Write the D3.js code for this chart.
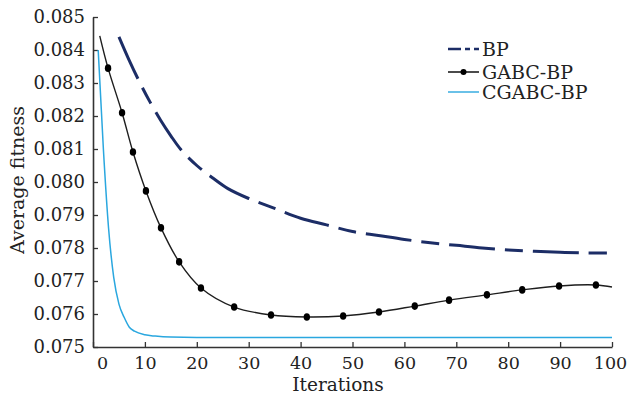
<!DOCTYPE html>
<html>
<head>
  <meta charset="utf-8">
  <title>Average fitness vs iterations</title>
  <script src="https://d3js.org/d3.v7.min.js"></script>
  <style>
    body { margin: 0; background: #fff; }
    svg text { font-family: "DejaVu Serif", serif; fill: #222; }
  </style>
</head>
<body>
  <svg width="632" height="396"></svg>

  <script>
    // values
    const bpIter = [5, 7, 9, 11, 13, 15, 17, 20, 23, 26, 30, 35, 40, 45, 50, 55, 60, 65, 70, 75, 80, 85, 90, 95, 100];
    const bpFit = [0.0844, 0.08368, 0.08302, 0.08242, 0.08188, 0.0814, 0.08097, 0.0805, 0.08013, 0.0798, 0.0795, 0.0792,
                   0.0789, 0.0787, 0.0785, 0.07838, 0.07826, 0.07816, 0.07808, 0.07800, 0.07794, 0.0779, 0.07787, 0.07785, 0.07785];

    const gabcIter = [1.3, 2.9, 5.6, 7.7, 10.2, 13.1, 16.6, 20.8, 27.2, 34.3, 41.2, 48.2, 55.1, 62.0, 68.6, 75.9, 82.7, 89.8, 96.9, 100];
    const gabcFit = [0.08443, 0.08345, 0.0821, 0.08091, 0.07973, 0.07861, 0.07758, 0.07679, 0.07621, 0.07597, 0.07591,
                     0.07594, 0.07606, 0.07624, 0.07642, 0.07658, 0.07673, 0.07685, 0.07688, 0.07682];

    const cgabcIter = [1, 2, 3, 4, 5, 6, 7, 8, 10, 12, 15, 20, 30, 50, 100];
    const cgabcFit = [0.0840, 0.0810, 0.0786, 0.0771, 0.0763, 0.0759, 0.0756, 0.07548, 0.07537, 0.07533, 0.0753,
                      0.07529, 0.07529, 0.07529, 0.07529];

    const xTicks = [0, 10, 20, 30, 40, 50, 60, 70, 80, 90, 100];
    const yTicks = [0.075, 0.076, 0.077, 0.078, 0.079, 0.080, 0.081, 0.082, 0.083, 0.084, 0.085];
    const legendNames = ["BP", "GABC-BP", "CGABC-BP"];

    const svg = d3.select("svg");
    const m = { left: 93, right: 612, top: 17, bottom: 347 };

    const x = d3.scaleLinear().domain([0, 100]).range([m.left, m.right]);
    const y = d3.scaleLinear().domain([0.075, 0.085]).range([m.bottom, m.top]);

    // axes, ticks pointing inwards
    const xAxis = svg.append("g").attr("transform", `translate(0,${m.bottom})`)
      .call(d3.axisBottom(x).tickValues(xTicks).tickSizeInner(-5).tickSizeOuter(0).tickPadding(10));
    const yAxis = svg.append("g").attr("transform", `translate(${m.left},0)`)
      .call(d3.axisLeft(y).tickValues(yTicks).tickFormat(d3.format(".3f")).tickSizeInner(-5).tickSizeOuter(0).tickPadding(8));

    [xAxis, yAxis].forEach(a => {
      a.select(".domain").attr("stroke", "#333").attr("stroke-width", 1.6);
      a.selectAll(".tick line").attr("stroke", "#333").attr("stroke-width", 1.3);
      a.selectAll(".tick text").attr("font-size", 18).attr("fill", "#222");
    });
    xAxis.selectAll(".tick text").attr("font-size", 17.5);
    xAxis.selectAll(".tick text").filter(d => d === 0).attr("dx", 9);
    xAxis.selectAll(".tick text").filter(d => d === 100).attr("dx", -2);

    svg.append("text").attr("x", 338).attr("y", 391).attr("text-anchor", "middle")
      .attr("font-size", 18.5).text("Iterations");
    svg.append("text").attr("transform", "translate(24,180) rotate(-90)").attr("text-anchor", "middle")
      .attr("font-size", 19).text("Average fitness");

    const smooth = d3.line().x(d => x(d[0])).y(d => y(d[1])).curve(d3.curveCatmullRom.alpha(0.5));
    const mono = d3.line().x(d => x(d[0])).y(d => y(d[1])).curve(d3.curveMonotoneX);

    // BP
    svg.append("path").datum(d3.zip(bpIter, bpFit)).attr("d", smooth)
      .attr("fill", "none").attr("stroke", "#1c2d66").attr("stroke-width", 3)
      .attr("stroke-dasharray", "46,10,18,10");

    // GABC-BP
    const gabc = d3.zip(gabcIter, gabcFit);
    svg.append("path").datum(gabc).attr("d", smooth)
      .attr("fill", "none").attr("stroke", "#1e1e1e").attr("stroke-width", 1.4);
    svg.selectAll(".mk").data(gabc.slice(1, -1)).join("ellipse").attr("class", "mk")
      .attr("cx", d => x(d[0])).attr("cy", d => y(d[1])).attr("rx", 3.2).attr("ry", 3.8).attr("fill", "#000");

    // CGABC-BP
    svg.append("path").datum(d3.zip(cgabcIter, cgabcFit)).attr("d", mono)
      .attr("fill", "none").attr("stroke", "#2aa7df").attr("stroke-width", 1.5);

    // legend
    const lg = svg.append("g").attr("transform", "translate(448,49)");
    const rowY = [0, 23, 43];
    lg.append("line").attr("x1", 0).attr("x2", 31).attr("y1", rowY[0]).attr("y2", rowY[0])
      .attr("stroke", "#1c2d66").attr("stroke-width", 2.5).attr("stroke-dasharray", "13,4,5,4,5");
    lg.append("line").attr("x1", 0).attr("x2", 31).attr("y1", rowY[1]).attr("y2", rowY[1])
      .attr("stroke", "#1e1e1e").attr("stroke-width", 1.6);
    lg.append("circle").attr("cx", 15.5).attr("cy", rowY[1]).attr("r", 3).attr("fill", "#000");
    lg.append("line").attr("x1", 0).attr("x2", 31).attr("y1", rowY[2]).attr("y2", rowY[2])
      .attr("stroke", "#2aa7df").attr("stroke-width", 1.4);
    lg.selectAll(".lt").data(legendNames).join("text").attr("class", "lt")
      .attr("x", 34).attr("y", (d, i) => rowY[i] + 6.5).attr("font-size", 19).text(d => d);
  </script>
</body>
</html>
